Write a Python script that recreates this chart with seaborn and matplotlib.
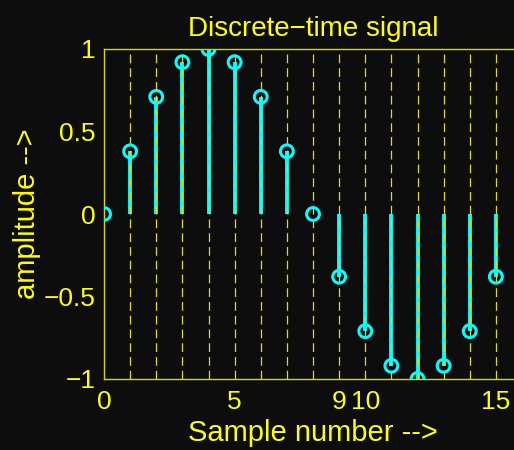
import matplotlib
matplotlib.use("Agg")
import matplotlib.pyplot as plt
from matplotlib.ticker import FixedLocator
import seaborn as sns
import pandas as pd

# Samples of one period of a sampled sinusoid
sample_index = list(range(16))
amplitude = [0.0, 0.38, 0.71, 0.92, 1.0, 0.92, 0.71, 0.38,
             0.0, -0.38, -0.71, -0.92, -1.0, -0.92, -0.71, -0.38]
x_ticks = [0, 5, 9, 10, 15]
y_ticks = [-1, -0.5, 0, 0.5, 1]

BG = "#0d0d0d"
YEL = "#ffff00"
CYAN = "#00ffff"

sns.set_theme(style="dark")
plt.rcParams["font.family"] = ["Liberation Sans", "DejaVu Sans"]

df = pd.DataFrame({"n": sample_index, "x": amplitude})

fig = plt.figure(figsize=(5.14, 4.5), dpi=100, facecolor=BG)
W, H = 514, 450
left, right, top, bottom = 104, 522, 49, 379
ax = fig.add_axes([left / W, 1 - bottom / H, (right - left) / W, (bottom - top) / H])
ax.set_facecolor(BG)

# stems
ax.vlines(df["n"], 0, df["x"], colors=CYAN, linewidth=2.8, zorder=2)

# dashed vertical grid at every sample
for n in sample_index[1:]:
    ax.axvline(n, color="#e0e000", linewidth=0.9, linestyle=(0, (7, 4)), zorder=2.5)

# open circle markers
sns.scatterplot(data=df, x="n", y="x", ax=ax, s=85, marker="o",
                facecolor="none", edgecolor=CYAN, linewidth=2.2, zorder=3,
                legend=False)

ax.set_xlim(0, 16)
ax.set_ylim(-1, 1)
ax.xaxis.set_major_locator(FixedLocator(x_ticks))
ax.yaxis.set_major_locator(FixedLocator(y_ticks))
ax.set_xticklabels([str(t) for t in x_ticks])
ax.set_yticklabels(["\u22121", "\u22120.5", "0", "0.5", "1"])
ax.grid(False)

for side in ["left", "bottom", "top", "right"]:
    ax.spines[side].set_visible(True)
    ax.spines[side].set_color("#d8d800")
    ax.spines[side].set_linewidth(1.0)

ax.tick_params(axis="both", which="major", direction="in", length=4,
               width=0.8, color=YEL, labelcolor=YEL, labelsize=19, pad=6)
ax.tick_params(axis="x", pad=8)

ax.set_title("Discrete\u2212time signal", color=YEL, fontsize=20, pad=9)
ax.set_xlabel("Sample number -->", color=YEL, fontsize=21, labelpad=4)
ax.set_ylabel("amplitude -->", color=YEL, fontsize=21, labelpad=2)
ax.xaxis.set_label_coords((313 - left) / (right - left), -0.12)
ax.title.set_position(((313 - left) / (right - left), 1.0))

fig.savefig("out.png", dpi=100, facecolor=BG)
